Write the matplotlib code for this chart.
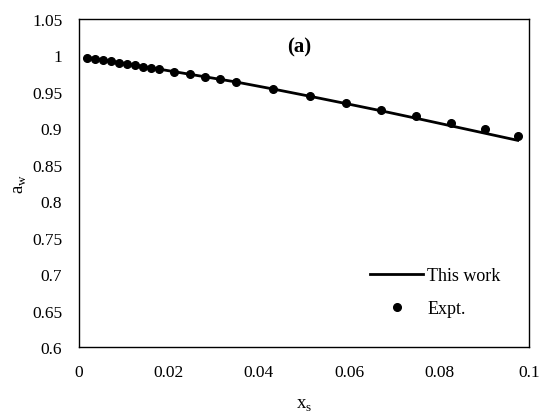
import matplotlib
matplotlib.use("Agg")
import matplotlib.pyplot as plt

# Salt mole fraction (x_s) and water activity (a_w)
x_expt = [0.0018, 0.0036, 0.0054, 0.0071, 0.0089, 0.0107, 0.0124, 0.0142, 0.0159, 0.0177,
          0.0212, 0.0246, 0.0280, 0.0314, 0.0348, 0.0431, 0.0513, 0.0593, 0.0672, 0.0750,
          0.0826, 0.0902, 0.0975]
aw_expt = [0.9970, 0.9953, 0.9936, 0.9918, 0.9900, 0.9883, 0.9865, 0.9847, 0.9829, 0.9811,
           0.9777, 0.9742, 0.9707, 0.9670, 0.9634, 0.9545, 0.9450, 0.9352, 0.9256, 0.9165,
           0.9075, 0.8985, 0.8895]
aw_model = [0.9975, 0.9957, 0.9939, 0.9921, 0.9903, 0.9885, 0.9867, 0.9849, 0.9831, 0.9813,
            0.9777, 0.9742, 0.9707, 0.9672, 0.9637, 0.9540, 0.9440, 0.9340, 0.9240, 0.9137,
            0.9035, 0.8933, 0.8835]

x_ticks = [0, 0.02, 0.04, 0.06, 0.08, 0.1]
x_labels = ["0", "0.02", "0.04", "0.06", "0.08", "0.1"]
y_ticks = [0.6, 0.65, 0.7, 0.75, 0.8, 0.85, 0.9, 0.95, 1.0, 1.05]
y_labels = ["0.6", "0.65", "0.7", "0.75", "0.8", "0.85", "0.9", "0.95", "1", "1.05"]

plt.rcParams['font.family'] = ['Liberation Serif', 'DejaVu Serif']

fig, ax = plt.subplots(figsize=(5.44, 4.14), dpi=100)
fig.subplots_adjust(left=0.1452, right=0.9724, top=0.9517, bottom=0.1594)

ax.plot(x_expt, aw_model, color='black', linewidth=2.0, label='This work')
ax.plot(x_expt, aw_expt, 'o', color='black', markersize=5.5, label='Expt.')

ax.set_xlim(0, 0.1)
ax.set_ylim(0.6, 1.05)
ax.set_xticks(x_ticks)
ax.set_xticklabels(x_labels)
ax.set_yticks(y_ticks)
ax.set_yticklabels(y_labels)
ax.tick_params(length=0, labelsize=12.5)
ax.tick_params(axis='x', pad=12)
ax.tick_params(axis='y', pad=12)
for s in ax.spines.values():
    s.set_linewidth(1.0)

ax.set_xlabel(r"x$_\mathregular{s}$", fontsize=13.5, labelpad=12)
ax.set_ylabel(r"a$_\mathregular{w}$", fontsize=13.5, labelpad=2)

ax.text(0.049, 1.012, "(a)", fontsize=15, fontweight='bold', ha='center', va='center')

ax.legend(loc='upper left', bbox_to_anchor=(0.6467, 0.244), frameon=False, fontsize=13,
          borderpad=0, borderaxespad=0, handlelength=2.94, handletextpad=0.22,
          labelspacing=0.89)

fig.savefig("out.png", dpi=100)
